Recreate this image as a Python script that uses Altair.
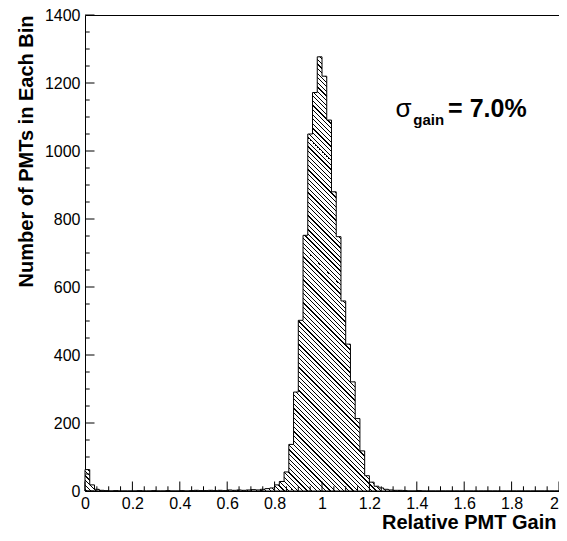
import altair as alt
import pandas as pd
import numpy as np

# ---------------- data ----------------
BIN_WIDTH = 0.02
counts = [
    63, 18, 5, 2, 1, 0, 1, 0, 0, 0,          # 0.00 - 0.18
    0, 1, 0, 0, 1, 0, 0, 1, 0, 0,            # 0.20 - 0.38
    1, 0, 1, 2, 1, 1, 2, 1, 2, 1,            # 0.40 - 0.58
    3, 2, 3, 2, 3, 4, 3, 5, 7, 9,            # 0.60 - 0.78
    18, 28, 56, 137, 291, 502, 752, 1050, 1172, 1277,   # 0.80 - 0.98
    1220, 1091, 880, 748, 559, 432, 321, 213, 118, 45,  # 1.00 - 1.18
    26, 14, 9, 5, 3, 2, 2, 1, 0, 0,          # 1.20 - 1.38
    1, 0, 0, 0, 0, 0, 0, 0, 0, 0,            # 1.40 - 1.58
    0, 0, 0, 0, 0, 0, 0, 0, 0, 0,            # 1.60 - 1.78
    0, 0, 0, 0, 0, 0, 0, 0, 0, 0,            # 1.80 - 1.98
]
x_major = [0, 0.2, 0.4, 0.6, 0.8, 1.0, 1.2, 1.4, 1.6, 1.8, 2.0]
y_major = [0, 200, 400, 600, 800, 1000, 1200, 1400]
x_minor_step = 0.05
y_minor_step = 50
x_title = "Relative PMT Gain"
y_title = "Number of PMTs in Each Bin"

X_DOMAIN = [0, 2]
Y_DOMAIN = [0, 1400]
PW, PH = 474, 476
FONT = "Liberation Sans"
LABEL_SIZE = 16
TITLE_SIZE = 20

# step outline of the histogram
edges = [round(i * BIN_WIDTH, 4) for i in range(len(counts) + 1)]
hist = pd.DataFrame({"x": edges, "n": counts + [counts[-1]]})

xs = alt.Scale(domain=X_DOMAIN, nice=False, zero=False)
ys = alt.Scale(domain=Y_DOMAIN, nice=False)

# ---------------- hatch fill (ROOT style 3005, "\\\\" lines) ----------------
W = PW * (edges[-1] - edges[0]) / (X_DOMAIN[1] - X_DOMAIN[0])
H = PH * max(counts) / Y_DOMAIN[1]
span = W + H
k = (W + H) / (W * W + H * H)
spacing, lw = 4.6, 1.3
stops = [alt.GradientStop(color="white", offset=0)]
pos = 1.0
while pos + lw < span:
    a, b = pos / span, (pos + lw) / span
    stops += [alt.GradientStop(color="white", offset=a),
              alt.GradientStop(color="black", offset=a),
              alt.GradientStop(color="black", offset=b),
              alt.GradientStop(color="white", offset=b)]
    pos += spacing
stops.append(alt.GradientStop(color="white", offset=1))
hatch = alt.LinearGradient(gradient="linear", stops=stops,
                           x1=0, y1=1, x2=k * W, y2=1 - k * H)

x_axis = alt.Axis(
    values=x_major, format="~g", title=x_title, domain=False, ticks=False,
    grid=False, labelFlush=False, labelOverlap=False, labelPadding=4,
    labelOffset={"expr": "datum.value >= 2 ? -5 : 0"},
    labelFontSize=LABEL_SIZE, labelFont=FONT, labelColor="black",
    titleFont=FONT, titleFontSize=TITLE_SIZE, titleFontWeight="bold", titleColor="black",
    titleAnchor="end", titleAlign="right", titleBaseline="alphabetic",
    titleX=PW - 3, titleY=37)
y_axis = alt.Axis(
    values=y_major, format="d", title=y_title, domain=False, ticks=False, grid=False,
    labelPadding=5, labelFontSize=LABEL_SIZE, labelFont=FONT, labelColor="black",
    labelOverlap=False,
    titleFont=FONT, titleFontSize=TITLE_SIZE, titleFontWeight="bold", titleColor="black",
    titleAnchor="end", titleAngle=-90, titleAlign="right",
    titleBaseline="alphabetic", titleX=-53, titleY=0)

area = alt.Chart(hist).mark_area(
    interpolate="step-after", fill=hatch, stroke="black", strokeWidth=1
).encode(
    x=alt.X("x:Q", scale=xs, axis=x_axis, title=x_title),
    y=alt.Y("n:Q", scale=ys, axis=y_axis, title=y_title),
)

# ---------------- inward ticks ----------------
x_all = np.round(np.arange(X_DOMAIN[0], X_DOMAIN[1] + 1e-9, x_minor_step), 4)
x_min = [v for v in x_all if not any(abs(v - m) < 1e-6 for m in x_major)]
y_all = np.arange(Y_DOMAIN[0], Y_DOMAIN[1] + 1, y_minor_step)
y_min = [int(v) for v in y_all if int(v) not in y_major]

def xticks(vals, L):
    return alt.Chart(pd.DataFrame({"x": vals})).mark_rule(color="black", strokeWidth=1).encode(
        x=alt.X("x:Q", scale=xs, axis=x_axis, title=x_title),
        y=alt.value(PH), y2=alt.value(PH - L))

def yticks(vals, L):
    return alt.Chart(pd.DataFrame({"n": vals})).mark_rule(color="black", strokeWidth=1).encode(
        y=alt.Y("n:Q", scale=ys, axis=y_axis, title=y_title),
        x=alt.value(0), x2=alt.value(L))

# ---------------- annotation ----------------
def label(txt, xv, yv, size, weight):
    d = pd.DataFrame({"x": [xv], "n": [yv]})
    return alt.Chart(d).mark_text(text=txt, font=FONT, fontSize=size, fontWeight=weight,
                                  align="left", baseline="alphabetic", color="black").encode(
        x=alt.X("x:Q", scale=xs, axis=x_axis, title=x_title),
        y=alt.Y("n:Q", scale=ys, axis=y_axis, title=y_title))

sig = label("σ", 1.31, 1100, 26, "normal")
sub = label("gain", 1.385, 1077, 15, "bold")
eq = label("= 7.0%", 1.532, 1100, 25, "bold")

chart = alt.layer(
    area,
    xticks(x_major, 9.5), xticks(x_min, 4.7),
    yticks(y_major, 9.5), yticks(y_min, 4.7),
    sig, sub, eq,
).properties(
    width=PW, height=PH,
    autosize=alt.AutoSizeParams(type="none"),
    padding={"left": 77, "top": 7, "right": 0, "bottom": 43},
    background="white",
).configure_view(stroke="black", strokeWidth=1)

chart.save("out.html", embed_options={"renderer": "svg", "actions": False})
